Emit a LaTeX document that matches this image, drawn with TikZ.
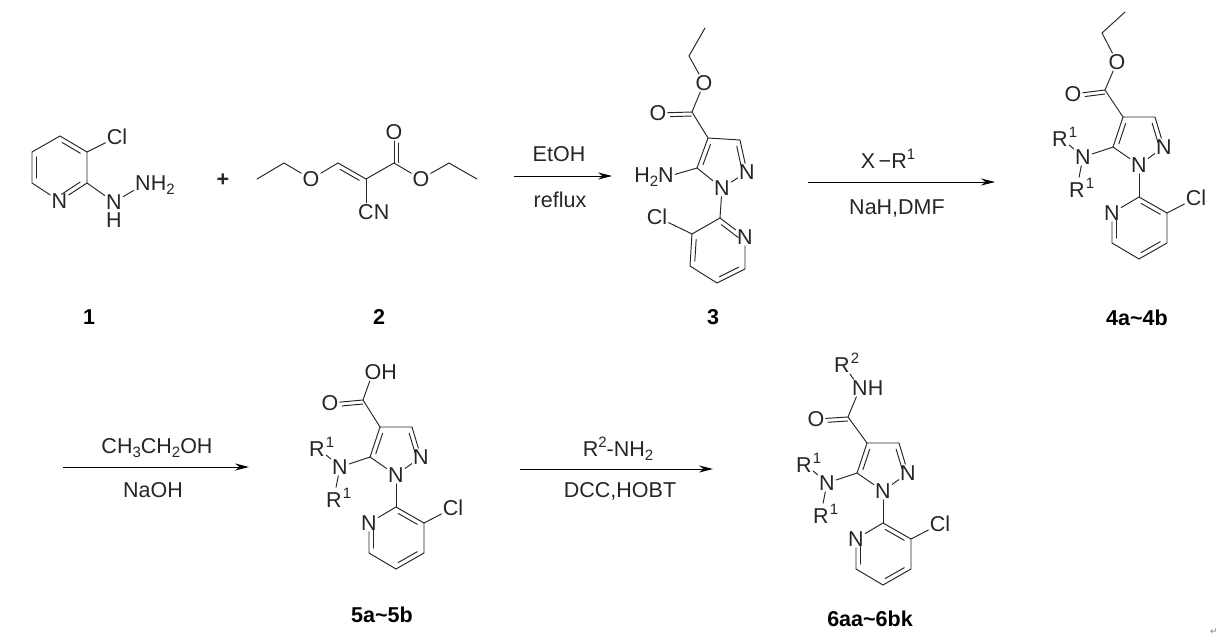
\documentclass[tikz,border=0pt]{standalone}
\usepackage{fontspec}
\setmainfont{Liberation Sans}
\newfontfamily\djv{DejaVu Sans}
\usetikzlibrary{calc,arrows.meta}
\definecolor{ink}{HTML}{262626}
\newcommand\sbs[1]{\raisebox{-4pt}{\fontsize{15}{15}\selectfont #1}}
\newcommand\sps[1]{\raisebox{8.5pt}{\fontsize{15}{15}\selectfont #1}}
% double bond: inner line, on the given side
\newcommand\DB[3]{\draw[bond] ($(#1)!.16!(#2)!#3pt!90:(#2)$) -- ($(#2)!.16!(#1)!#3pt!-90:(#1)$);}
% carbonyl: second line from carbon to oxygen
\newcommand\DO[3]{\draw[bond] ($(#1)!.02!(#2)!#3pt!90:(#2)$) -- ($(#2)!.36!(#1)!#3pt!-90:(#1)$);}
\tikzset{
  x=1pt,y=-1pt,
  bond/.style={draw=ink,line width=0.95pt,line cap=round},
  atom/.style={inner sep=1.2pt,font=\fontsize{21.5}{21.5}\selectfont,text=ink},
  cond/.style={inner sep=0pt,font=\fontsize{21.5}{21.5}\selectfont,text=ink},
  cpd/.style={inner sep=0pt,font=\fontsize{21.5}{21.5}\selectfont\bfseries,text=black},
  rxn/.style={draw=black,line width=1pt,-{Stealth[length=14pt,width=7pt]}},
}
% pyrazole with NR1R1 and chloropyridine, origin at C4 of the pyrazole
\newcommand\Core[3]{%
\begin{scope}[shift={(#2,#3)}]
  \coordinate (#1c4) at (0,0);
  \coordinate (#1c3) at (32,0);
  \node[atom] (#1n2) at (41,30) {N};
  \node[atom] (#1n1) at (16,48) {N};
  \coordinate (#1c5) at (-10,30);
  \node[atom] (#1n) at (-40,40) {N};
  \node[atom] (#1ru) at (-63,20) {R\rlap{\kern1pt\sps{1}}};
  \node[atom] (#1rl) at (-46,71) {R\rlap{\kern1pt\sps{1}}};
  \coordinate (#1c2p) at (16,80);
  \coordinate (#1c3p) at (44,96);
  \coordinate (#1c4p) at (44,126);
  \coordinate (#1c5p) at (16,142);
  \coordinate (#1c6p) at (-11,126);
  \node[atom] (#1np) at (-11,96) {N};
  \node[atom] (#1cl) at (73,81) {Cl};
  \draw[bond] (#1c4) -- (#1c3) -- (#1n2) -- (#1n1) -- (#1c5) -- (#1c4);
  \DB{#1c5}{#1c4}{-4.5}\DB{#1c3}{#1n2}{-4.5}
  \draw[bond] (#1c5) -- (#1n);
  \draw[bond] (#1n) -- (#1ru);
  \draw[bond] (#1n) -- (#1rl);
  \draw[bond] (#1n1) -- (#1c2p);
  \draw[bond] (#1np) -- (#1c2p) -- (#1c3p) -- (#1c4p) -- (#1c5p) -- (#1c6p) -- (#1np);
  \DB{#1c2p}{#1c3p}{-4.5}\DB{#1c4p}{#1c5p}{-4.5}\DB{#1c6p}{#1np}{-4.5}
  \draw[bond] (#1c3p) -- (#1cl);
\end{scope}}
\begin{document}
\begin{tikzpicture}
\useasboundingbox (0,0) rectangle (1219,642);
\fill[white] (0,0) rectangle (1219,642);

% ---------- compound 1
\coordinate (a1) at (60,136);
\coordinate (a2) at (87,152);
\coordinate (a3) at (87,183);
\node[atom] (a4) at (59.5,201) {N};
\coordinate (a5) at (32,183);
\coordinate (a6) at (32,152);
\node[atom] (acl) at (117,137) {Cl};
\node[atom] (an) at (114,202) {N};
\node[atom,inner sep=0pt] (ah) at (114,220.5) {H};
\node[atom] (an2) at (143,185) {N\rlap{H\sbs{2}}};
\draw[bond] (a1) -- (a2) -- (a3) -- (a4) -- (a5) -- (a6) -- (a1);
\DB{a1}{a2}{-4.5}\DB{a3}{a4}{-4.5}\DB{a5}{a6}{-4.5}
\draw[bond] (a2) -- (acl);
\draw[bond] (a3) -- (an);
\draw[bond] (an) -- (an2);
\node[cpd] (lab1) at (89,317) {1};
\node[cond] (plus) at (223,180) {\bfseries +};

% ---------- compound 2
\coordinate (b1) at (257,179);
\coordinate (b2) at (284,163);
\node[atom] (b3) at (311,179) {O};
\coordinate (b4) at (338,163);
\coordinate (b5) at (366,179);
\coordinate (b6) at (394,163);
\node[atom] (b7) at (394,132) {O};
\node[atom] (b8) at (421,179) {O};
\coordinate (b9) at (449,163);
\coordinate (b10) at (477,179);
\node[atom] (b11) at (366,212) {C\rlap{N}};
\draw[bond] (b1) -- (b2) -- (b3) -- (b4) -- (b5) -- (b6) -- (b8) -- (b9) -- (b10);
\draw[bond] (b5) -- (b11);
\draw[bond] (b6) -- (b7);
\DB{b4}{b5}{-4.5}
\DO{b6}{b7}{-4}
\node[cpd] (lab2) at (379,317) {2};

% ---------- compound 3
\coordinate (c1) at (705,28);
\coordinate (c2) at (689,56);
\node[atom] (c3) at (704,83) {O};
\coordinate (c4) at (692,112);
\node[atom] (c5) at (658,113) {O};
\coordinate (c6) at (708,138);
\coordinate (c7) at (740,140);
\node[atom] (c8) at (747,172) {N};
\node[atom] (c9) at (722,188) {N};
\coordinate (c10) at (697,168);
\node[atom] (c11) at (666,177) {\llap{H\sbs{2}}N};
\coordinate (c12) at (720,218);
\node[atom] (c13) at (745,237) {N};
\coordinate (c14) at (745,269);
\coordinate (c15) at (717,283);
\coordinate (c16) at (690,266);
\coordinate (c17) at (692,234);
\node[atom] (c18) at (657,217) {Cl};
\draw[bond] (c1) -- (c2) -- (c3) -- (c4) -- (c6);
\draw[bond] (c4) -- (c5);
\DO{c4}{c5}{4}
\draw[bond] (c6) -- (c7) -- (c8) -- (c9) -- (c10) -- (c6);
\DB{c10}{c6}{-4.5}\DB{c7}{c8}{-4.5}
\draw[bond] (c10) -- (c11);
\draw[bond] (c9) -- (c12);
\draw[bond] (c12) -- (c13) -- (c14) -- (c15) -- (c16) -- (c17) -- (c12);
\DB{c12}{c13}{-4.5}\DB{c14}{c15}{-4.5}\DB{c16}{c17}{-4.5}
\draw[bond] (c17) -- (c18);
\node[cpd] (lab3) at (713,317) {3};

% ---------- compound 4
\Core{d}{1123}{117}
\coordinate (d1) at (1125,12);
\coordinate (d2) at (1102,33);
\node[atom] (d3) at (1117,62) {O};
\coordinate (d4) at (1105,90);
\node[atom] (d5) at (1073,94) {O};
\draw[bond] (d1) -- (d2) -- (d3) -- (d4) -- (dc4);
\draw[bond] (d4) -- (d5);
\DO{d4}{d5}{4}
\node[cpd] (lab4) at (1137,318) {4a\textasciitilde 4b};

% ---------- compound 5
\Core{e}{380}{427}
\node[atom] (e3) at (373,372) {O\rlap{H}};
\coordinate (e4) at (363,400);
\node[atom] (e5) at (330,403) {O};
\draw[bond] (e3) -- (e4) -- (ec4);
\draw[bond] (e4) -- (e5);
\DO{e4}{e5}{4}
\node[cpd] (lab5) at (382,615) {5a\textasciitilde 5b};

% ---------- compound 6
\Core{f}{867}{443}
\node[atom] (f1) at (842,363) {R\rlap{\kern1pt\sps{2}}};
\node[atom] (f3) at (860,388) {N\rlap{H}};
\coordinate (f4) at (848,417);
\node[atom] (f5) at (816,419) {O};
\draw[bond] (f1) -- (f3) -- (f4) -- (fc4);
\draw[bond] (f4) -- (f5);
\DO{f4}{f5}{4}
\node[cpd] (lab6) at (870,619) {6aa\textasciitilde 6bk};

% ---------- arrows
\coordinate (r1a) at (514,176); \coordinate (r1b) at (612,176);
\coordinate (r2a) at (808,182); \coordinate (r2b) at (995,182);
\coordinate (r3a) at (63,467);  \coordinate (r3b) at (249,467);
\coordinate (r4a) at (520,469); \coordinate (r4b) at (713,469);
\draw[rxn] (r1a) -- (r1b);
\draw[rxn] (r2a) -- (r2b);
\draw[rxn] (r3a) -- (r3b);
\draw[rxn] (r4a) -- (r4b);
\node[cond] (t1a) at (559,154) {EtOH};
\node[cond] (t1b) at (560,200) {reflux};
\node[cond] (t2a) at (888,159) {X\,−R\sps{1}};
\node[cond] (t2b) at (897,208) {NaH,DMF};
\node[cond] (t3a) at (157,448) {CH\sbs{3}CH\sbs{2}OH};
\node[cond] (t3b) at (153,490) {NaOH};
\node[cond] (t4a) at (618,449) {R\sps{2}-NH\sbs{2}};
\node[cond] (t4b) at (620,491) {DCC,HOBT};
\node[inner sep=0pt,text=gray,font=\djv\fontsize{9}{9}\selectfont] (ret) at (1214,632) {↵};
\end{tikzpicture}
\end{document}
